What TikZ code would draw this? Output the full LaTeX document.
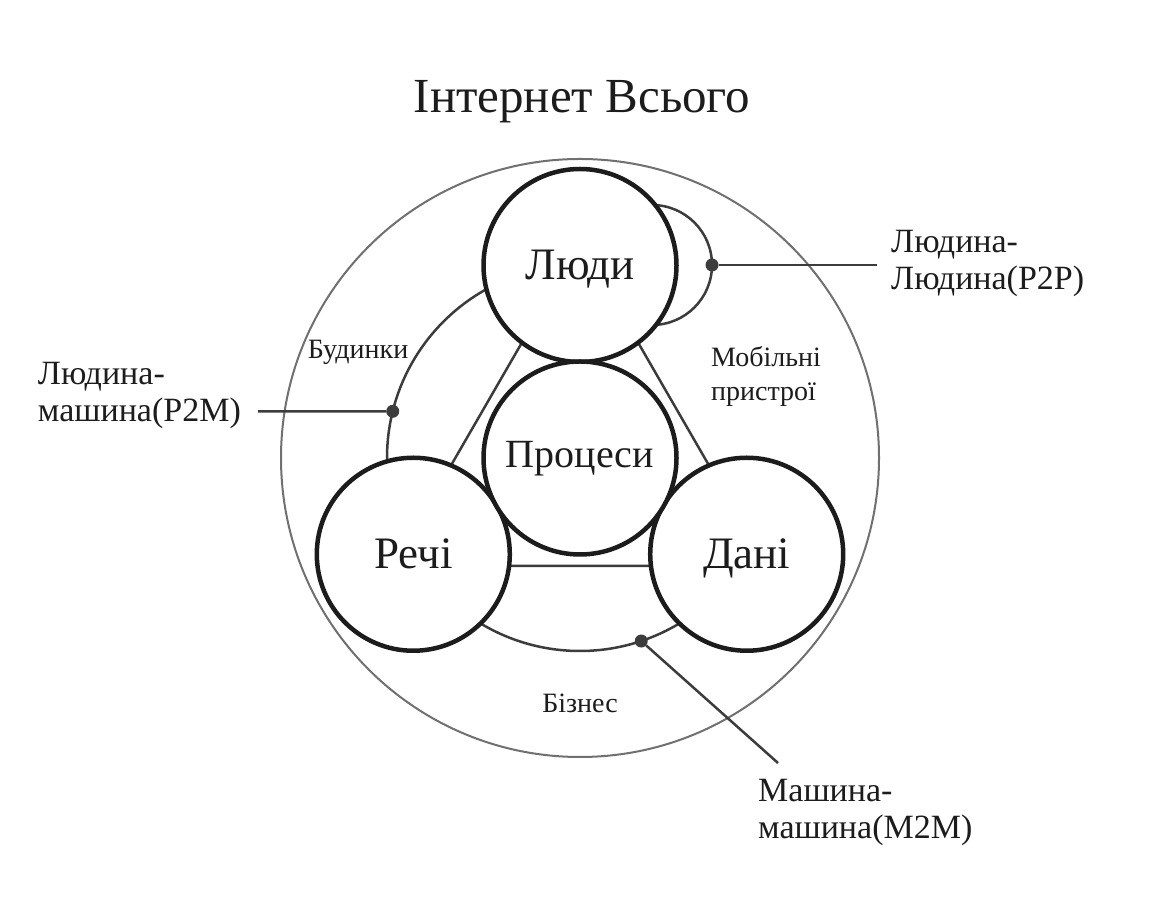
\documentclass[tikz,border=0pt]{standalone}
\usepackage{fontspec}
\setmainfont{Liberation Serif}
\usetikzlibrary{calc}

\definecolor{ink}{HTML}{1C1C1C}
\definecolor{linkgray}{HTML}{3C3C3C}
\definecolor{rimgray}{HTML}{707070}

\tikzset{
  bigcirc/.style={circle, draw=ink, line width=4.5pt, fill=white,
    minimum size=193pt, inner sep=0pt, text=ink,
    text height=29pt, text depth=0pt,
    font=\fontsize{45}{54}\selectfont},
  link/.style={draw=linkgray, line width=2.5pt},
  rim/.style={draw=rimgray, line width=2pt},
  hub/.style={circle, fill=linkgray, minimum size=13pt, inner sep=0pt},
  leadlabel/.style={align=left, inner sep=0pt, text=ink,
    font=\fontsize{34}{37}\selectfont},
  arealabel/.style={align=left, inner sep=0pt, text=ink,
    font=\fontsize{28}{34}\selectfont}
}

\begin{document}
\begin{tikzpicture}[x=1pt, y=1pt]
\useasboundingbox (0,0) rectangle (1150,904);
\fill[white] (0,0) rectangle (1150,904);

% centre of the composition
\coordinate (C) at (580,446);

% title
\node[text=ink, font=\fontsize{49}{58}\selectfont] (title) at (582,802) {Інтернет Всього};

% outer boundary circle
\draw[rim] (C) circle[radius=299pt];

% inner ring (left and bottom part only)
\draw[link] ($(C)+(90:193pt)$) arc[start angle=90, end angle=330, radius=193pt];

% triangle behind the circles
\coordinate (t1) at ($(C)+(90:216pt)$);
\coordinate (t2) at ($(C)+(210:216pt)$);
\coordinate (t3) at ($(C)+(330:216pt)$);
\draw[link] (t1) -- (t2) -- (t3) -- cycle;

% crescent beside the top circle
\draw[link] (652,639) circle[radius=60pt];

% the four main circles
\node[bigcirc] (people) at ($(C)+(90:192.5pt)$) {Люди};
\node[bigcirc] (things) at ($(C)+(210:192.5pt)$) {Речі};
\node[bigcirc] (data)   at ($(C)+(330:192.5pt)$) {Дані};
\node[bigcirc, text height=20pt, font=\fontsize{40}{48}\selectfont] (process) at (C) {Процеси};

% connection points
\node[hub] (p2p) at (712,639) {};
\node[hub] (p2m) at ($(C)+(166:193pt)$) {};
\node[hub] (m2m) at ($(C)+(288.5:193pt)$) {};

\coordinate (p2pend) at (877,639);
\coordinate (p2mend) at (258,492.7);
\coordinate (m2mend) at (778,141);

\draw[link] (p2p) -- (p2pend);
\draw[link] (p2m) -- (p2mend);
\draw[link] (m2m) -- (m2mend);

% leader labels
\node[leadlabel, anchor=west] (lp2p) at (891,641) {Людина-\\Людина(P2P)};
\node[leadlabel, anchor=east] (lp2m) at (241,509) {Людина-\\машина(P2M)};
\node[leadlabel, anchor=west] (lm2m) at (758,92) {Машина-\\машина(M2M)};

% area labels
\node[arealabel] (homes) at (358,552) {Будинки};
\node[arealabel, anchor=west] (mobile) at (711,528) {Мобільні\\пристрої};
\node[arealabel] (business) at (580,201) {Бізнес};
\end{tikzpicture}
\end{document}
